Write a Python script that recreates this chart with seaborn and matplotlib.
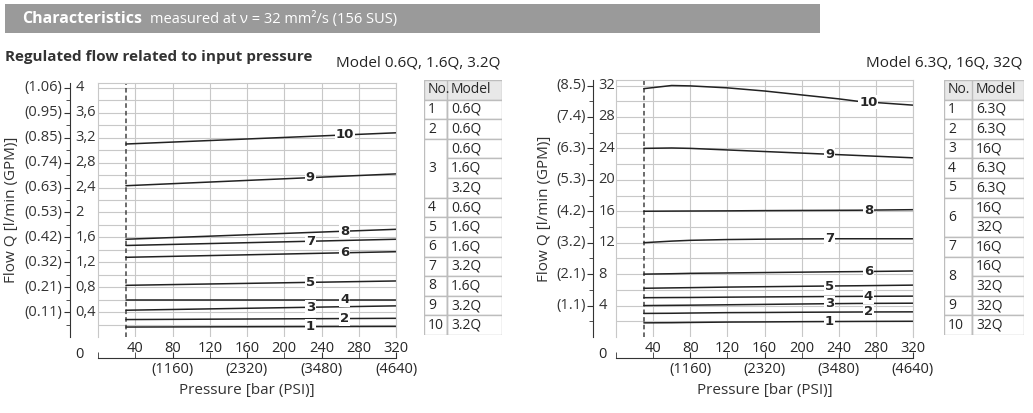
import numpy as np
import pandas as pd
import matplotlib
matplotlib.use('Agg')
import matplotlib.pyplot as plt
import seaborn as sns
from matplotlib.patches import Rectangle

sns.set_style('white')
plt.rcParams['font.family'] = ['Open Sans', 'DejaVu Sans']

# ── Data: left chart (Model 0.6Q, 1.6Q, 3.2Q) ──
left_x = [30, 320]
left_curves = {
    1: [0.16, 0.17], 2: [0.28, 0.30], 3: [0.43, 0.50], 4: [0.60, 0.60],
    5: [0.83, 0.90], 6: [1.28, 1.37], 7: [1.47, 1.57], 8: [1.57, 1.73],
    9: [2.43, 2.62], 10: [3.10, 3.28],
}
left_yticks = [0.4, 0.8, 1.2, 1.6, 2.0, 2.4, 2.8, 3.2, 3.6, 4.0]
left_ylabels = ['0,4', '0,8', '1,2', '1,6', '2', '2,4', '2,8', '3,2', '3,6', '4']
left_gpm = ['(0.11)', '(0.21)', '(0.32)', '(0.42)', '(0.53)', '(0.63)',
            '(0.74)', '(0.85)', '(0.95)', '(1.06)']
left_table = [('1', ['0.6Q']), ('2', ['0.6Q']), ('3', ['0.6Q', '1.6Q', '3.2Q']),
              ('4', ['0.6Q']), ('5', ['1.6Q']), ('6', ['1.6Q']), ('7', ['3.2Q']),
              ('8', ['1.6Q']), ('9', ['3.2Q']), ('10', ['3.2Q'])]

# ── Data: right chart (Model 6.3Q, 16Q, 32Q) ──
right_x = [30, 60, 80, 120, 160, 200, 240, 260, 320]
right_curves = {
    1: [1.8, 1.82, 1.85, 1.9, 1.92, 1.95, 1.97, 1.98, 2.0],
    2: [3.0, 3.02, 3.05, 3.1, 3.12, 3.15, 3.17, 3.18, 3.2],
    3: [4.0, 4.03, 4.05, 4.1, 4.15, 4.2, 4.25, 4.27, 4.3],
    4: [5.0, 5.02, 5.03, 5.07, 5.1, 5.13, 5.16, 5.17, 5.2],
    5: [6.2, 6.25, 6.28, 6.35, 6.4, 6.45, 6.5, 6.52, 6.6],
    6: [8.0, 8.05, 8.1, 8.15, 8.2, 8.25, 8.3, 8.32, 8.4],
    7: [12.0, 12.2, 12.3, 12.4, 12.45, 12.48, 12.5, 12.5, 12.5],
    8: [16.0, 16.02, 16.03, 16.05, 16.08, 16.1, 16.12, 16.13, 16.2],
    9: [24.0, 24.05, 24.0, 23.8, 23.6, 23.4, 23.2, 23.1, 22.8],
    10: [31.6, 32.0, 31.95, 31.7, 31.3, 30.8, 30.3, 30.0, 29.5],
}
right_yticks = [4, 8, 12, 16, 20, 24, 28, 32]
right_ylabels = ['4', '8', '12', '16', '20', '24', '28', '32']
right_gpm = ['(1.1)', '(2.1)', '(3.2)', '(4.2)', '(5.3)', '(6.3)', '(7.4)', '(8.5)']
right_table = [('1', ['6.3Q']), ('2', ['6.3Q']), ('3', ['16Q']), ('4', ['6.3Q']),
               ('5', ['6.3Q']), ('6', ['16Q', '32Q']), ('7', ['16Q']),
               ('8', ['16Q', '32Q']), ('9', ['32Q']), ('10', ['32Q'])]

x_ticks = [40, 80, 120, 160, 200, 240, 280, 320]
psi_ticks = [80, 160, 240, 320]
psi_labels = ['(1160)', '(2320)', '(3480)', '(4640)']

W, H = 1033, 413
fig = plt.figure(figsize=(W / 100, H / 100), dpi=100)


def px_axes(x0, y0, x1, y1):
    return fig.add_axes([x0 / W, 1 - y1 / H, (x1 - x0) / W, (y1 - y0) / H])


def draw_chart(ax, xs, curves, ymax, ystep, yticks, ylabels, gpm, label_pos,
               spine_x, gpm_x, flow_x):
    rows = []
    for no, ys in curves.items():
        for x, y in zip(xs, ys):
            rows.append({'p': x, 'q': y, 'no': no})
    df = pd.DataFrame(rows)
    sns.lineplot(data=df, x='p', y='q', units='no', estimator=None,
                 color='#222222', lw=1.1, ax=ax, legend=False)
    ax.set_xlim(0, 320)
    ax.set_ylim(0, ymax)
    for y in np.arange(ystep, ymax, ystep):
        ax.axhline(y, color='#c8c8c8', lw=0.8, zorder=0)
    for x in x_ticks:
        ax.axvline(x, color='#c8c8c8', lw=0.8, zorder=0)
    ax.axvline(30, color='#444444', lw=1.1, ls=(0, (3, 2)), zorder=1)
    for no, ys in curves.items():
        lx = label_pos[no]
        ly = np.interp(lx, xs, ys)
        ax.text(lx, ly, str(no), ha='center', va='center', fontsize=9.5,
                fontweight='bold', family='DejaVu Sans',
                bbox=dict(facecolor='white', edgecolor='none', pad=0.6))
    for s in ['top', 'right']:
        ax.spines[s].set_color('#c8c8c8')
    ax.spines['bottom'].set_visible(False)
    ax.spines['left'].set_color('#c8c8c8')
    ax.set_yticks([])
    ax.set_xticks(x_ticks)
    ax.set_xticklabels([str(t) for t in x_ticks], fontsize=10.5)
    ax.tick_params(axis='x', length=0, pad=3)
    ax.set_xlabel('')
    ax.set_ylabel('')

    # offset y axis: metric labels right of spine, GPM labels left of it
    yax = ax.secondary_yaxis(spine_x)
    yax.set_yticks(yticks)
    yax.set_yticklabels([])
    yax.set_yticks(np.arange(ystep, ymax, ystep), minor=True)
    yax.tick_params(axis='y', which='major', length=4, color='#333333')
    yax.tick_params(axis='y', which='minor', length=3, color='#333333')
    yax.spines['left'].set_color('#333333')
    ytr = ax.get_yaxis_transform()
    for t, lab, g in zip(yticks, ylabels, gpm):
        ax.text(spine_x + 0.018, t, lab, transform=ytr, ha='left',
                va='center', fontsize=10.5, color='#333333')
        ax.text(gpm_x, t, g, transform=ytr, ha='right',
                va='center', fontsize=10.5, color='#333333')
    ax.text(spine_x + 0.018, -0.04, '0', transform=ax.transAxes, ha='left',
            va='top', fontsize=10.5)
    ax.text(flow_x, 0.5, 'Flow Q [l/min (GPM)]', transform=ax.transAxes,
            rotation=90, ha='center', va='center', fontsize=11, color='#333333')

    # PSI axis below
    xax = ax.secondary_xaxis(-0.083)
    xax.set_xticks(psi_ticks)
    xax.set_xticklabels(psi_labels, fontsize=10.5)
    xax.set_xticks([0] + x_ticks, minor=True)
    xax.tick_params(axis='x', which='both', direction='in', length=4,
                    color='#333333', pad=3)
    xax.spines['bottom'].set_color('#333333')
    ax.text(0.5, -0.18, 'Pressure [bar (PSI)]', transform=ax.transAxes,
            ha='center', va='top', fontsize=11, color='#333333')


def draw_table(x0, x1, xsplit, y0, y1, entries):
    n = 1 + sum(len(m) for _, m in entries)
    h = (y1 - y0) / n
    tax = px_axes(x0, y0, x1, y1)
    tax.set_xlim(x0, x1)
    tax.set_ylim(y1, y0)
    tax.axis('off')
    ec = '#bdbdbd'
    tax.add_patch(Rectangle((x0, y0), x1 - x0, h, fc='#e8e8e8', ec=ec, lw=1))
    tax.text(x0 + 4, y0 + h / 2, 'No.', va='center', fontsize=10)
    tax.text(xsplit + 4, y0 + h / 2, 'Model', va='center', fontsize=10)
    tax.plot([xsplit, xsplit], [y0, y1], color=ec, lw=1)
    y = y0 + h
    for no, models in entries:
        k = len(models)
        tax.add_patch(Rectangle((x0, y), xsplit - x0, k * h, fc='white', ec=ec, lw=1))
        tax.text(x0 + 4, y + k * h / 2, no, va='center', fontsize=10)
        for m in models:
            tax.add_patch(Rectangle((xsplit, y), x1 - xsplit, h, fc='white', ec=ec, lw=1))
            tax.text(xsplit + 4, y + h / 2, m, va='center', fontsize=10)
            y += h


# header bar
hax = px_axes(5, 4, 820, 33)
hax.set_facecolor('#9a9a9a')
hax.set_xticks([])
hax.set_yticks([])
for s in hax.spines.values():
    s.set_visible(False)
fig.text(22 / W, 1 - 19 / H, 'Characteristics', fontsize=11.5, fontweight='bold',
         color='white', va='center')
fig.text(150 / W, 1 - 19 / H, 'measured at ν = 32 mm²/s (156 SUS)', fontsize=10.5,
         color='white', va='center')
fig.text(5 / W, 1 - 57 / H, 'Regulated flow related to input pressure', fontsize=11,
         fontweight='bold', color='#333333', va='center')
fig.text(336 / W, 1 - 63 / H, 'Model 0.6Q, 1.6Q, 3.2Q', fontsize=11,
         color='#222222', va='center')
fig.text(1022 / W, 1 - 63 / H, 'Model 6.3Q, 16Q, 32Q', fontsize=11,
         color='#222222', va='center', ha='right')

left_label_pos = {1: 228, 2: 265, 3: 228, 4: 265, 5: 228, 6: 265, 7: 228,
                  8: 265, 9: 228, 10: 265}
right_label_pos = {1: 230, 2: 272, 3: 230, 4: 272, 5: 230, 6: 272, 7: 230,
                   8: 272, 9: 230, 10: 272}

axl = px_axes(98, 83, 396, 337)
draw_chart(axl, left_x, left_curves, 4.08, 0.2, left_yticks, left_ylabels,
           left_gpm, left_label_pos, -0.094, -0.12, -0.29)
axr = px_axes(616, 80, 913, 337)
draw_chart(axr, right_x, right_curves, 32.7, 2, right_yticks, right_ylabels,
           right_gpm, right_label_pos, -0.078, -0.10, -0.24)

draw_table(424, 502, 447, 80, 335, left_table)
draw_table(944, 1024, 972, 80, 335, right_table)

fig.savefig('out.png', dpi=100)
